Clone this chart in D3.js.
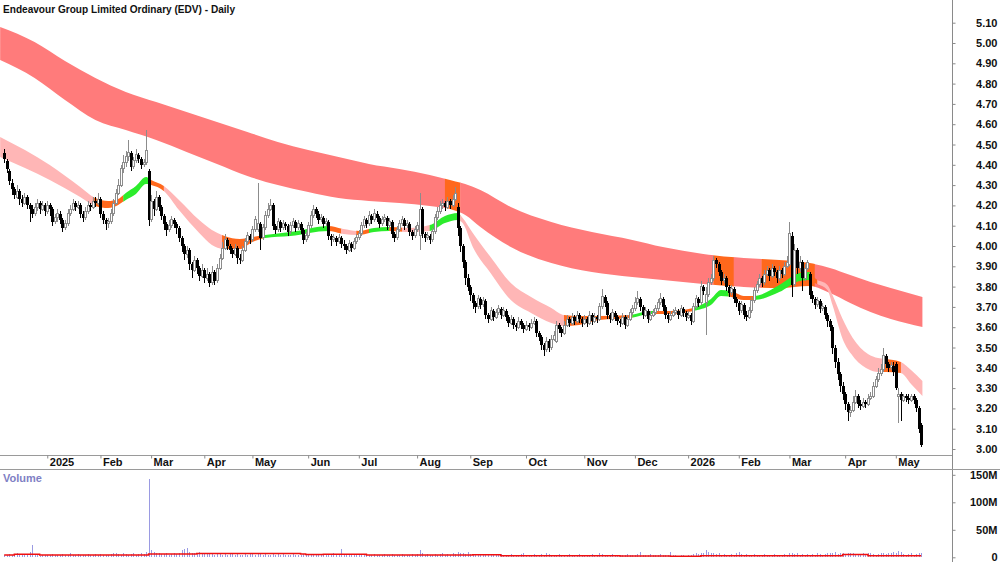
<!DOCTYPE html>
<html>
<head>
<meta charset="utf-8">
<script src="https://cdn.jsdelivr.net/npm/d3@7"></script>
<style>
  body { margin: 0; background: #fff; }
  svg { display: block; font-family: "Liberation Sans", Arial, sans-serif; }
</style>
</head>
<body>
<svg id="chart" width="1000" height="562"></svg>
<script>
// Daily bars [open, high, low, close] in cents, one array per month
const bars2412 = [[446,448,441,443],[442,443,436,438],[437,438,430,432],[431,433,425,428],[428,429,423,425],[424,430,423,427],[427,428,420,423],[423,425,419,421],[421,426,420,424],[424,425,418,420],[420,421,412,418],[418,420,414,416],[416,421,415,419],[419,423,417,421],[421,422,416,418],[418,422,417,420],[420,421,415,417]];
const bars2501 = [[417,422,416,420],[420,421,415,418],[418,419,410,412],[412,416,411,414],[414,418,412,416],[416,417,411,413],[413,414,407,409],[409,413,408,411],[411,418,410,416],[416,420,415,418],[418,423,417,421],[421,422,417,419],[419,422,418,420],[420,421,414,416],[416,417,412,414],[414,419,413,417],[417,422,416,420],[420,421,417,419],[419,424,418,422],[422,424,419,421],[421,426,420,423]];
const bars2502 = [[423,424,414,416],[416,417,411,413],[413,414,408,411],[411,414,409,412],[412,418,411,416],[416,423,415,421],[421,428,420,426],[426,433,425,430],[430,440,429,438],[438,445,436,441],[441,447,439,444],[444,452,442,446],[446,447,437,439],[439,444,438,442],[442,448,441,445],[445,446,441,443],[443,444,438,440],[440,443,439,441],[441,457,440,447],[437,438,410,413]];
const bars2503 = [[413,425,412,422],[422,423,415,418],[418,427,417,424],[424,425,417,419],[419,420,413,415],[415,416,408,411],[411,412,405,408],[408,413,407,410],[410,415,409,413],[413,414,409,411],[411,412,406,409],[409,410,402,404],[404,405,397,400],[400,401,393,396],[396,400,394,398],[398,399,388,391],[391,392,384,388],[388,395,387,393],[393,394,386,389],[389,390,383,385],[385,391,384,388]];
const bars2504 = [[388,389,382,384],[384,389,383,386],[386,387,380,382],[382,390,381,387],[387,388,381,383],[383,391,382,389],[389,396,388,394],[394,402,393,399],[399,406,398,403],[403,404,398,400],[400,401,396,398],[398,399,394,396],[396,401,395,399],[399,400,391,394],[394,396,391,393],[393,400,392,398],[398,404,397,402],[402,407,401,405],[405,406,401,403]];
const bars2505 = [[403,410,402,408],[408,415,407,413],[408,431,407,411],[411,412,398,404],[404,411,403,409],[409,417,408,415],[415,421,414,418],[418,423,417,420],[420,421,408,410],[410,411,406,408],[408,414,407,412],[412,413,407,409],[409,413,408,411],[411,412,408,410],[410,411,405,407],[407,412,406,410],[410,414,409,412],[412,413,407,409],[409,413,408,411],[411,412,406,408],[408,409,401,403],[403,407,402,405]];
const bars2506 = [[405,412,404,410],[410,417,409,415],[415,420,414,418],[418,419,414,416],[416,417,411,413],[413,416,412,414],[414,415,409,411],[411,414,410,412],[412,413,403,405],[405,406,400,403],[403,406,402,404],[404,405,400,402],[402,406,401,404],[404,405,399,401],[401,403,398,400],[400,401,396,398],[398,403,397,401],[401,402,397,399],[399,404,398,402],[402,406,401,404]];
const bars2507 = [[404,408,403,406],[406,412,405,410],[410,415,409,413],[413,414,409,411],[411,417,410,415],[415,416,411,413],[413,418,412,416],[416,417,412,414],[414,415,409,411],[411,415,410,413],[413,416,412,414],[414,415,408,410],[410,414,409,412],[412,413,404,406],[406,407,402,404],[404,410,403,408],[408,413,407,411],[411,415,410,413],[413,414,408,410],[410,413,409,411],[411,412,405,407],[407,408,403,405],[405,410,404,408]];
const bars2508 = [[408,412,407,410],[405,426,398,418],[418,419,404,406],[406,407,402,404],[404,407,403,405],[405,406,401,403],[403,409,402,407],[407,416,406,414],[414,419,413,417],[417,422,416,420],[420,423,418,421],[421,422,417,419],[419,424,418,422],[422,423,418,420],[420,425,419,423],[423,429,422,426],[419,421,405,409],[409,410,397,400],[400,401,389,392],[392,393,381,384],[384,386,378,380]];
const bars2509 = [[380,381,373,376],[376,377,369,372],[372,373,367,370],[370,376,369,374],[374,375,369,371],[371,375,370,373],[373,374,364,366],[366,367,362,364],[364,370,363,368],[368,369,363,365],[365,369,364,367],[367,371,366,369],[369,370,364,366],[366,370,365,368],[368,369,363,365],[365,366,360,362],[362,366,361,364],[364,365,359,361],[361,362,358,360],[360,365,359,363],[363,364,359,361],[361,362,357,359]];
const bars2510 = [[359,363,358,361],[361,362,358,360],[360,364,359,362],[362,365,361,363],[363,364,355,357],[357,358,353,355],[355,356,349,351],[351,352,346,349],[349,355,348,353],[353,354,348,350],[350,356,349,354],[354,358,353,356],[353,363,352,361],[361,362,357,359],[359,360,355,357],[357,363,356,361],[361,366,360,364],[364,365,360,362],[362,367,361,365],[365,366,361,363],[363,368,362,366],[366,367,362,364],[364,365,360,362]];
const bars2511 = [[362,366,361,364],[364,365,360,362],[362,368,361,366],[366,367,361,363],[363,367,362,365],[365,366,362,364],[364,372,363,370],[370,379,369,375],[375,376,370,372],[372,373,364,366],[366,367,362,364],[364,369,363,367],[367,368,363,365],[365,366,361,363],[363,364,360,362],[362,367,361,365],[365,366,359,361],[361,366,360,364],[364,369,363,367],[367,371,366,369]];
const bars2512 = [[369,375,368,372],[372,378,371,374],[374,375,368,370],[370,371,364,366],[366,370,365,368],[368,369,362,364],[364,368,363,366],[366,369,365,367],[367,371,366,369],[369,374,368,372],[372,377,371,374],[374,375,368,370],[370,371,364,366],[366,367,362,364],[364,368,363,366],[366,369,365,367],[367,370,366,368],[368,369,364,366],[366,371,365,369],[369,370,365,367],[367,368,363,365]];
const bars2601 = [[365,368,364,366],[366,367,361,363],[363,372,362,370],[370,376,369,374],[374,375,370,372],[372,383,371,380],[380,381,376,378],[372,380,356,376],[376,384,375,382],[382,386,381,384],[384,395,383,393],[393,394,389,391],[391,392,385,387],[387,388,381,383],[383,386,382,384],[384,385,378,380],[380,381,375,377],[377,381,376,379],[379,380,372,374],[374,375,370,372]];
const bars2602 = [[372,373,366,368],[368,373,367,371],[371,372,364,366],[366,368,363,365],[365,370,364,368],[368,375,367,373],[373,380,372,378],[378,383,377,381],[381,386,380,384],[384,385,380,382],[382,388,381,386],[386,390,385,388],[388,389,383,385],[385,391,384,389],[389,390,385,387],[387,388,382,384],[384,390,383,388],[388,389,384,386],[386,392,385,390],[390,395,389,392]];
const bars2603 = [[391,412,390,406],[405,407,375,381],[381,401,380,398],[398,399,386,389],[389,395,387,392],[392,393,378,384],[384,391,383,389],[389,393,388,392],[386,387,374,376],[376,378,372,374],[374,375,369,371],[371,375,370,373],[373,374,367,369],[369,372,368,370],[370,371,364,366],[366,367,360,363],[363,364,358,360],[360,361,347,350],[350,351,340,343],[343,345,334,337],[337,338,328,331],[331,333,324,327]];
const bars2604 = [[327,328,319,322],[322,323,314,318],[318,321,316,319],[319,326,318,323],[323,329,322,326],[326,327,320,322],[322,324,319,321],[321,325,320,323],[323,324,320,322],[322,327,321,325],[325,328,324,326],[326,333,325,331],[331,336,330,334],[334,340,333,337],[337,342,336,339],[339,350,338,346],[346,347,340,342],[342,343,338,340],[340,343,339,341],[341,343,336,338]];
const bars2605 = [[342,343,329,330],[326,330,313,327],[327,328,314,324],[324,327,323,326],[326,327,323,325],[325,327,322,324],[324,327,323,326],[326,327,322,324],[324,325,318,320],[320,321,308,310],[312,313,301,302]];

// Volume in millions, one array per month
const vol2412 = [5,4,6,5,4,7,5,4,6,5,9,22,6,4,3,5,4];
const vol2501 = [5,4,6,5,4,5,6,4,5,7,5,4,6,5,4,5,6,4,5,6,5];
const vol2502 = [6,5,4,5,6,7,8,6,5,7,6,5,6,7,5,6,8,6,9,143];
const vol2503 = [14,9,8,7,6,6,7,5,6,7,6,8,13,16,17,10,8,7,6,9,7];
const vol2504 = [7,6,8,6,5,7,6,5,6,5,7,6,5,6,5,4,6,5,7];
const vol2505 = [6,5,7,6,5,6,5,4,6,5,7,5,6,5,4,5,6,5,4,5,6,5];
const vol2506 = [5,6,4,5,6,5,4,5,6,5,7,5,4,15,6,5,4,5,6,5];
const vol2507 = [5,4,6,5,4,5,6,5,4,5,6,4,5,6,5,4,5,6,5,4,5,6,5];
const vol2508 = [6,13,7,5,6,5,4,6,5,6,7,5,6,5,7,6,9,8,7,6,10];
const vol2509 = [6,5,4,5,6,5,4,5,6,5,4,5,6,5,4,5,6,5,4,5,6,7];
const vol2510 = [5,4,5,6,4,5,6,5,7,6,5,4,5,6,5,4,5,6,5,4,5,6,4];
const vol2511 = [5,4,5,6,5,4,7,6,5,4,5,6,5,4,5,4,5,6,4,5];
const vol2512 = [5,6,10,5,4,5,6,5,4,5,6,5,4,5,10,5,4,3,5,4,3];
const vol2601 = [4,5,6,7,6,8,7,13,9,7,8,6,7,5,6,5,4,6,5,7];
const vol2602 = [10,6,5,6,5,4,6,5,4,5,6,5,4,5,6,5,4,5,6,5];
const vol2603 = [8,7,6,7,5,6,5,6,5,6,5,7,6,5,6,7,8,7,9,6,7,8];
const vol2604 = [6,7,8,7,6,5,6,7,6,8,7,6,5,6,7,8,6,7,8,9];
const vol2605 = [7,12,9,6,5,6,7,5,6,7,8];

// Volume average line (red), [bar index, millions] steps
const volAvg = [[0,4],[4,5.5],[14,4.3],[57,6],[76,7],[117,6],[119,5],[126,5.5],[143,4],[185,4.6],[196,3],[243,2.5],[263,2],[275,3],[331,5],[341,3],[362,3]];

// Long band (red) [bar index, top, bottom]
const longBand = [[-1.6,5.079,4.916],[12,5.005,4.828],[24,4.911,4.719],[36,4.828,4.621],[48,4.759,4.571],[60,4.709,4.522],[72,4.660,4.463],[84,4.611,4.404],[96,4.562,4.345],[108,4.512,4.300],[120,4.473,4.266],[132,4.438,4.236],[144,4.404,4.222],[156,4.379,4.212],[168,4.350,4.197],[176,4.325,4.182],[182,4.305,4.153],[188,4.276,4.094],[200,4.192,3.995],[216,4.118,3.916],[232,4.069,3.872],[248,4.030,3.847],[260,3.995,3.833],[276,3.961,3.813],[292,3.941,3.798],[306,3.931,3.793],[318,3.916,3.803],[326,3.892,3.768],[334,3.857,3.719],[342,3.823,3.675],[350,3.793,3.640],[362.5,3.749,3.601]];
const longColors = [[-2,174,'red'],[174,180,'orange'],[180,280,'red'],[280,288,'orange'],[288,299,'red'],[299,320,'orange'],[320,364,'red']];

// Short band (pink) [bar index, top, bottom]
const shortBand = [[-1.6,4.537,4.438],[18,4.399,4.325],[30,4.291,4.241],[36,4.236,4.197],[41,4.222,4.187],[45,4.232,4.202],[48,4.261,4.227],[52,4.296,4.256],[56,4.340,4.305],[58,4.325,4.300],[63,4.296,4.271],[69,4.227,4.177],[77,4.128,4.064],[82,4.079,4.005],[87,4.049,3.985],[93,4.034,3.985],[98,4.044,4.020],[103,4.054,4.039],[113,4.069,4.049],[128,4.099,4.074],[134,4.084,4.059],[140,4.074,4.054],[146,4.089,4.069],[152,4.094,4.074],[160,4.089,4.069],[168,4.103,4.074],[174,4.148,4.113],[179,4.163,4.128],[181,4.138,4.113],[185,4.064,3.995],[192,3.946,3.867],[200,3.818,3.734],[208,3.749,3.670],[216,3.695,3.621],[221,3.660,3.606],[227,3.655,3.611],[235,3.655,3.635],[247,3.660,3.645],[255,3.680,3.665],[263,3.680,3.665],[272,3.695,3.680],[279,3.739,3.709],[283,3.783,3.754],[287,3.778,3.749],[292,3.754,3.734],[296,3.754,3.734],[306,3.808,3.773],[314,3.867,3.828],[318,3.872,3.833],[320,3.842,3.818],[325,3.808,3.783],[327,3.759,3.709],[331,3.640,3.542],[335,3.547,3.458],[341,3.468,3.394],[345,3.448,3.379],[348,3.443,3.379],[354,3.429,3.374],[358,3.389,3.320],[362.5,3.335,3.261]];
const shortColors = [[-2,35,'pink'],[35,47,'orange'],[47,57,'green'],[57,63,'orange'],[63,86,'pink'],[86,102,'orange'],[102,128,'green'],[128,133,'orange'],[133,139,'pink'],[139,144,'orange'],[144,152,'green'],[152,157,'orange'],[157,168,'pink'],[168,180,'green'],[180,221,'pink'],[221,248,'orange'],[248,257,'green'],[257,272,'orange'],[272,286,'green'],[286,296,'orange'],[296,318,'green'],[318,321,'orange'],[321,347,'pink'],[347,354,'orange'],[354,364,'pink']];

// Axis labels
const monthLabels = ['2025','Feb','Mar','Apr','May','Jun','Jul','Aug','Sep','Oct','Nov','Dec','2026','Feb','Mar','Apr','May'];
const monthStarts = [17,38,58,79,98,120,140,163,184,206,229,249,270,290,310,332,352];
const priceTicks = [3.00,3.10,3.20,3.30,3.40,3.50,3.60,3.70,3.80,3.90,4.00,4.10,4.20,4.30,4.40,4.50,4.60,4.70,4.80,4.90,5.00,5.10];
const volTicks = [0, 50, 100, 150];
const volTickLabels = ['0', '50M', '100M', '150M'];

const bandColors = { red: '#ff7b7b', pink: '#ffb6b6', orange: '#ff681c', green: '#2cec2c' };

// ---- build ----
const bars = [].concat(bars2412, bars2501, bars2502, bars2503, bars2504, bars2505, bars2506, bars2507, bars2508,
    bars2509, bars2510, bars2511, bars2512, bars2601, bars2602, bars2603, bars2604, bars2605);
const volume = [].concat(vol2412, vol2501, vol2502, vol2503, vol2504, vol2505, vol2506, vol2507, vol2508,
    vol2509, vol2510, vol2511, vol2512, vol2601, vol2602, vol2603, vol2604, vol2605);
const N = bars.length;

const svg = d3.select('#chart');
const axisX = 952;

const x = d3.scaleLinear().domain([0, N - 1]).range([4.2, 4.2 + (N - 1) * 2.533]);
const y = d3.scaleLinear().domain([3.0, 5.1]).range([449, 22.7]);
const yv = d3.scaleLinear().domain([0, 150]).range([557.3, 474.8]);

// Bands, coloured by clipping the full area per segment
const defs = svg.append('defs');
const drawBand = (samples, segments, name) => {
    const area = d3.area()
        .x(d => x(d[0]))
        .y0(d => y(d[2]))
        .y1(d => y(d[1]))
        .curve(d3.curveMonotoneX);
    segments.forEach((s, k) => {
        const id = `clip-${name}-${k}`;
        defs.append('clipPath').attr('id', id)
            .append('rect')
            .attr('x', x(s[0])).attr('y', 0)
            .attr('width', x(s[1]) - x(s[0]) + 0.3).attr('height', 455);
        svg.append('path')
            .attr('d', area(samples))
            .attr('fill', bandColors[s[2]])
            .attr('clip-path', `url(#${id})`);
    });
};
drawBand(longBand, longColors, 'long');
drawBand(shortBand, shortColors, 'short');

// Candles
const gc = svg.append('g').attr('shape-rendering', 'crispEdges');
bars.forEach((b, i) => {
    const c = Math.round(x(i));
    const [o, h, l, cl] = b.map(v => v / 100);
    const up = cl >= o;
    gc.append('line')
        .attr('x1', c + 0.5).attr('x2', c + 0.5)
        .attr('y1', y(h)).attr('y2', y(l))
        .attr('stroke', up ? '#8c8c8c' : '#000');
    const top = y(Math.max(o, cl)), bot = y(Math.min(o, cl));
    if (up) {
        gc.append('rect')
            .attr('x', c - 0.5).attr('y', top)
            .attr('width', 2).attr('height', Math.max(1, bot - top))
            .attr('fill', '#fff').attr('stroke', '#8c8c8c');
    } else {
        gc.append('rect')
            .attr('x', c - 1).attr('y', top)
            .attr('width', 3).attr('height', Math.max(1, bot - top))
            .attr('fill', '#000');
    }
});

// Volume bars and average line
svg.append('g').attr('shape-rendering', 'crispEdges')
    .selectAll('line').data(volume).join('line')
    .attr('x1', (d, i) => Math.round(x(i)) + 0.5)
    .attr('x2', (d, i) => Math.round(x(i)) + 0.5)
    .attr('y1', yv(0)).attr('y2', d => yv(d))
    .attr('stroke', '#9a9ae2');
svg.append('path')
    .attr('d', d3.line().x(d => x(d[0])).y(d => yv(d[1])).curve(d3.curveStepAfter)(volAvg))
    .attr('fill', 'none').attr('stroke', '#f01010').attr('stroke-width', 1.5);

// Frame lines
svg.append('line').attr('x1', axisX + 0.5).attr('x2', axisX + 0.5).attr('y1', 0).attr('y2', 562)
    .attr('stroke', '#8a8a8a');
svg.append('line').attr('x1', 0).attr('x2', axisX).attr('y1', 455.5).attr('y2', 455.5)
    .attr('stroke', '#9a9a9a');
svg.append('line').attr('x1', 0).attr('x2', 1000).attr('y1', 469.5).attr('y2', 469.5)
    .attr('stroke', '#9a9a9a');

// Price axis
const pAxis = svg.append('g')
    .attr('transform', `translate(${axisX + 0.5},0)`)
    .call(d3.axisRight(y).tickValues(priceTicks).tickFormat(d3.format('.2f')).tickSize(3));
pAxis.select('.domain').remove();
pAxis.selectAll('line').attr('stroke', '#8a8a8a');
pAxis.selectAll('text').attr('x', 45).attr('text-anchor', 'end')
    .attr('font-size', 11).attr('font-weight', 'bold').attr('fill', '#111')
    .attr('font-family', '"Liberation Sans", Arial, sans-serif');

// Volume axis
const vAxis = svg.append('g')
    .attr('transform', `translate(${axisX + 0.5},0)`)
    .call(d3.axisRight(yv).tickValues(volTicks).tickFormat((d, i) => volTickLabels[i]).tickSize(3));
vAxis.select('.domain').remove();
vAxis.selectAll('line').attr('stroke', '#8a8a8a');
vAxis.selectAll('text').attr('x', 45).attr('text-anchor', 'end')
    .attr('font-size', 11).attr('font-weight', 'bold').attr('fill', '#111')
    .attr('font-family', '"Liberation Sans", Arial, sans-serif');

// Month axis
const mAxis = svg.append('g')
    .attr('transform', 'translate(0,455.5)')
    .call(d3.axisBottom(x).tickValues(monthStarts).tickFormat((d, i) => monthLabels[i]).tickSize(3));
mAxis.select('.domain').remove();
mAxis.selectAll('line').attr('stroke', '#8a8a8a');
mAxis.selectAll('text').attr('x', 2).attr('y', 3).attr('text-anchor', 'start')
    .attr('font-size', 11).attr('font-weight', 'bold').attr('fill', '#111')
    .attr('font-family', '"Liberation Sans", Arial, sans-serif');

// Title and panel label
svg.append('text').attr('x', 3).attr('y', 13)
    .attr('font-size', 11.5).attr('font-weight', 'bold').attr('fill', '#111')
    .attr('textLength', 232).attr('lengthAdjust', 'spacingAndGlyphs')
    .text('Endeavour Group Limited Ordinary (EDV) - Daily');
svg.append('text').attr('x', 3).attr('y', 482)
    .attr('font-size', 11).attr('font-weight', 'bold').attr('fill', '#8080c4')
    .text('Volume');
</script>
</body>
</html>
